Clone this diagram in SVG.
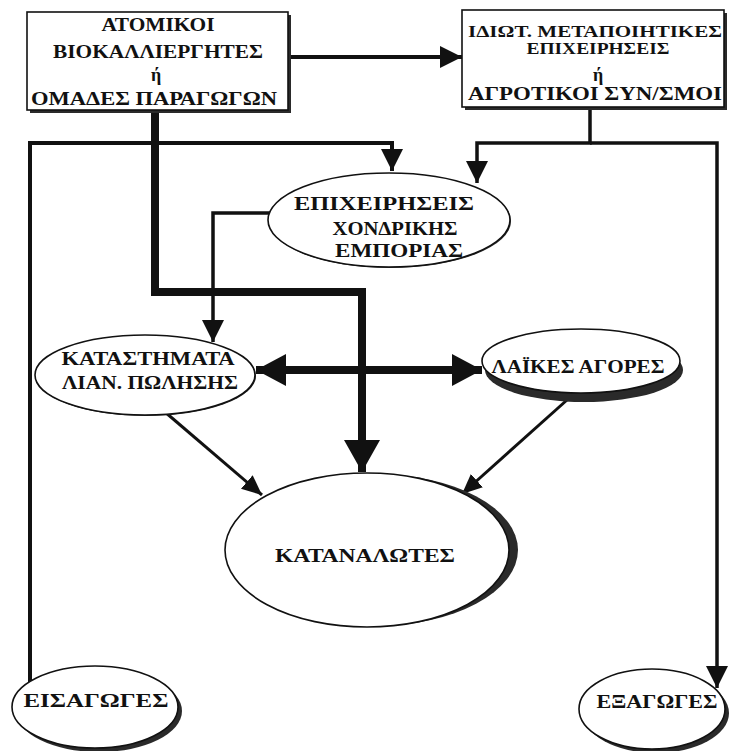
<svg xmlns="http://www.w3.org/2000/svg" width="731" height="751" viewBox="0 0 731 751">
<style>
  .box { fill: #fff; stroke: #111; stroke-width: 1.6; }
  .shadow { fill: #2a2a2a; stroke: none; }
  .ell { fill: #fff; stroke: #111; stroke-width: 1.6; }
  .t { font-family: "Liberation Serif", "DejaVu Serif", serif; font-weight: bold; font-size: 18px; fill: #111; text-anchor: middle; }
  .s { font-size: 16px; }
  .c { fill: none; stroke: #111; stroke-linejoin: miter; stroke-linecap: butt; }
</style>
<defs>
  <marker id="hBig" markerUnits="userSpaceOnUse" markerWidth="34" markerHeight="38" refX="32" refY="18" orient="auto">
    <path d="M0,0 L32,18 L0,36 Z" fill="#111"/>
  </marker>
  <marker id="hDbl" markerUnits="userSpaceOnUse" markerWidth="32" markerHeight="34" refX="30" refY="16" orient="auto-start-reverse">
    <path d="M0,0 L30,16 L0,32 Z" fill="#111"/>
  </marker>
  <marker id="hMed" markerUnits="userSpaceOnUse" markerWidth="24" markerHeight="24" refX="22" refY="11" orient="auto">
    <path d="M0,0 L22,11 L0,22 Z" fill="#111"/>
  </marker>
  <marker id="hSm" markerUnits="userSpaceOnUse" markerWidth="22" markerHeight="20" refX="20" refY="9" orient="auto">
    <path d="M0,0 L20,9 L0,18 Z" fill="#111"/>
  </marker>
</defs>
<rect width="731" height="751" fill="#fff"/>

<g id="connectors">
  <path class="c" d="M290,57 H462" stroke-width="4" marker-end="url(#hMed)"/>
  <path class="c" d="M30,682 V143 H392 V171" stroke-width="4" marker-end="url(#hMed)"/>
  <path class="c" d="M590,110 V143 H477 V183" stroke-width="3.5" marker-end="url(#hMed)"/>
  <path class="c" d="M590,143 H717 V688" stroke-width="3.5" marker-end="url(#hMed)"/>
  <path class="c" d="M270,213 H213 V342" stroke-width="3.5" marker-end="url(#hMed)"/>
  <path class="c" d="M155,110 V292 H362 V472" stroke-width="8" marker-end="url(#hBig)"/>
  <path class="c" d="M256,370 H482" stroke-width="8" marker-start="url(#hDbl)" marker-end="url(#hDbl)"/>
  <path class="c" d="M165,412 L262,495" stroke-width="3" marker-end="url(#hSm)"/>
  <path class="c" d="M567,400 L462,494" stroke-width="3" marker-end="url(#hSm)"/>
</g>

<g id="producers">
  <rect class="shadow" x="30" y="15" width="261" height="98"/>
  <rect class="box" x="27" y="12" width="261" height="98"/>
  <text class="t" x="158" y="31" textLength="113" lengthAdjust="spacingAndGlyphs">ΑΤΟΜΙΚΟΙ</text>
  <text class="t" x="158" y="58" textLength="210" lengthAdjust="spacingAndGlyphs">ΒΙΟΚΑΛΛΙΕΡΓΗΤΕΣ</text>
  <text class="t" x="156" y="81">ή</text>
  <text class="t" x="154" y="105" textLength="246" lengthAdjust="spacingAndGlyphs">ΟΜΑΔΕΣ ΠΑΡΑΓΩΓΩΝ</text>
</g>

<g id="processors">
  <rect class="shadow" x="465" y="13" width="262" height="97"/>
  <rect class="box" x="462" y="10" width="262" height="97"/>
  <text class="t s" x="595" y="37" textLength="254" lengthAdjust="spacingAndGlyphs">ΙΔΙΩΤ. ΜΕΤΑΠΟΙΗΤΙΚΕΣ</text>
  <text class="t s" x="598" y="54" textLength="143" lengthAdjust="spacingAndGlyphs">ΕΠΙΧΕΙΡΗΣΕΙΣ</text>
  <text class="t" x="598" y="81">ή</text>
  <text class="t" x="595" y="100" textLength="254" lengthAdjust="spacingAndGlyphs">ΑΓΡΟΤΙΚΟΙ ΣΥΝ/ΣΜΟΙ</text>
</g>

<g id="wholesale">
  <ellipse class="shadow" cx="390" cy="221" rx="121" ry="47"/>
  <ellipse class="ell" cx="389" cy="220" rx="121" ry="47"/>
  <text class="t" x="384" y="210" textLength="180" lengthAdjust="spacingAndGlyphs">ΕΠΙΧΕΙΡΗΣΕΙΣ</text>
  <text class="t" x="395" y="235" textLength="125" lengthAdjust="spacingAndGlyphs">ΧΟΝΔΡΙΚΗΣ</text>
  <text class="t" x="399" y="257" textLength="128" lengthAdjust="spacingAndGlyphs">ΕΜΠΟΡΙΑΣ</text>
</g>

<g id="retail">
  <ellipse class="shadow" cx="146" cy="376" rx="110" ry="40"/>
  <ellipse class="ell" cx="145" cy="375" rx="110" ry="40"/>
  <text class="t" x="148" y="365" textLength="173" lengthAdjust="spacingAndGlyphs">ΚΑΤΑΣΤΗΜΑΤΑ</text>
  <text class="t" x="150" y="389" textLength="176" lengthAdjust="spacingAndGlyphs">ΛΙΑΝ. ΠΩΛΗΣΗΣ</text>
</g>

<g id="markets">
  <ellipse class="shadow" cx="584" cy="370" rx="99" ry="32"/>
  <ellipse class="ell" cx="581" cy="361" rx="99" ry="32"/>
  <text class="t" x="578" y="373" textLength="173" lengthAdjust="spacingAndGlyphs">ΛΑΪΚΕΣ ΑΓΟΡΕΣ</text>
</g>

<g id="consumers">
  <ellipse class="shadow" cx="375" cy="550" rx="143" ry="76"/>
  <ellipse class="ell" cx="367" cy="550" rx="142" ry="77"/>
  <text class="t" x="365" y="562" textLength="180" lengthAdjust="spacingAndGlyphs">ΚΑΤΑΝΑΛΩΤΕΣ</text>
</g>

<g id="imports">
  <ellipse class="shadow" cx="99" cy="711" rx="83" ry="41"/>
  <ellipse class="ell" cx="95" cy="707" rx="83" ry="41"/>
  <text class="t" x="96" y="707" textLength="145" lengthAdjust="spacingAndGlyphs">ΕΙΣΑΓΩΓΕΣ</text>
</g>

<g id="exports">
  <ellipse class="shadow" cx="656" cy="713" rx="73" ry="40"/>
  <ellipse class="ell" cx="652" cy="709" rx="73" ry="40"/>
  <text class="t" x="657" y="708" textLength="121" lengthAdjust="spacingAndGlyphs">ΕΞΑΓΩΓΕΣ</text>
</g>
</svg>
